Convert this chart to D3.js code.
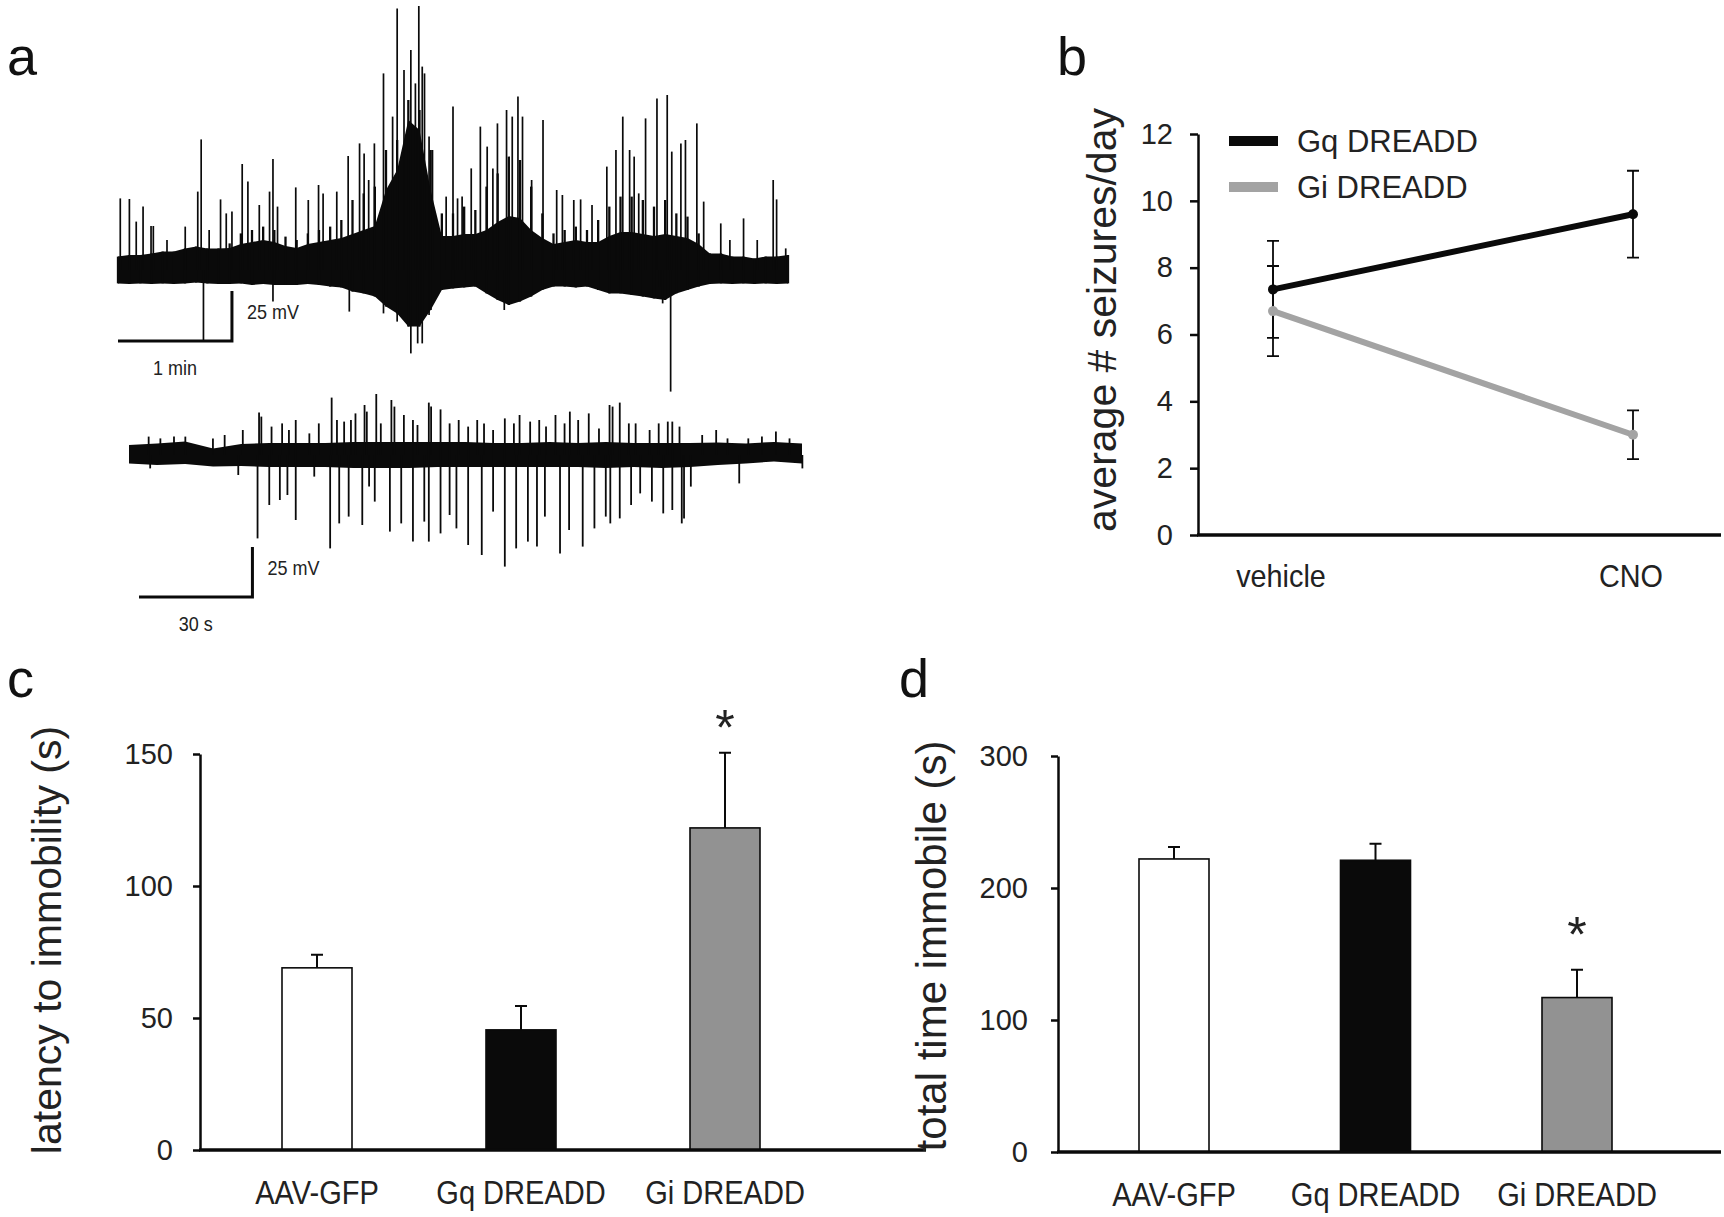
<!DOCTYPE html>
<html><head><meta charset="utf-8">
<script src="https://cdn.jsdelivr.net/npm/d3@7"></script>
<style>
html,body{margin:0;padding:0;background:#fff;}
svg{display:block;}
</style></head>
<body>
<svg id="fig" width="1724" height="1217"></svg>
<script>
// ---------------- DATA ----------------
// Panel a, trace 1 (minutes, mV). Solid core band + spiky envelope, sampled evenly over the trace
const trace1Duration = 5.88;
const trace1BandHi = [6.7,7.5,7.5,8.3,9.2,9.2,10.8,11.7,10.8,10.8,11,13,14,15,14,12,11,13,14,15,16,18,20,22,40,50,75,70,40,17,17,18,18,20,24,27,26,20,16,13,14,15,14,14,17,19,19,18,17,18,17,16,13,8.3,8.3,6.7,6.7,5.8,6.7,6.7,7.5];
const trace1Envelope = [6.7,7.5,7.5,8.3,9.2,9.2,10.8,11.7,10.8,10.8,13.3,18.3,20,21.7,20,16.7,15,18.3,20,21.7,25,35,38.3,41.7,60,65,85,80,60,28.3,28.3,31.7,30,41.7,48.3,56.7,55,41.7,28.3,18.3,20,21.7,20,25,31.7,36.7,36.7,35,31.7,35,28.3,26.7,18.3,8.3,8.3,6.7,6.7,5.8,6.7,6.7,7.5];
const trace1BandLo = [-6.7,-7,-6.7,-7,-6.7,-7,-6.7,-6.3,-6.7,-7,-7,-6.7,-7.5,-7,-7.5,-7.5,-7.5,-7,-7.5,-8.3,-8.7,-10.8,-11.7,-13.3,-18.3,-21.7,-28.3,-28.3,-20,-10,-9.2,-8.7,-8.3,-11.7,-15,-17.5,-15.8,-13.3,-10,-8.3,-8.3,-8.7,-8.3,-10,-11.7,-11.7,-12.5,-13.3,-14.2,-15,-11.7,-10,-8.3,-7,-6.7,-7,-6.7,-7,-6.7,-7,-6.7];
const trace1SpikesUp = [[0.02,35.8],[0.10,35.5],[0.16,24.2],[0.22,31.7],[0.29,22],[0.31,22],[0.43,15],[0.59,21.7],[0.70,39.2],[0.73,65.3],[0.80,20],[0.90,35.3],[0.95,28.3],[1.00,29.2],[1.09,53],[1.14,44.2],[1.24,32.5],[1.33,39.2],[1.36,55.5],[1.40,31.7],[1.56,41.3],[1.67,35],[1.76,42.5],[1.80,38.3],[1.92,39.2],[2.02,57],[2.12,63.3],[2.16,58.3],[2.20,45],[2.25,63.3],[2.33,98.3],[2.41,76.7],[2.45,130.8],[2.51,100],[2.57,110],[2.61,93.3],[2.64,132],[2.67,101.7],[2.69,98.3],[2.73,66.7],[2.76,60],[2.88,36.7],[2.94,81.7],[2.98,35.8],[3.02,36.7],[3.10,50.8],[3.18,71.7],[3.24,61.7],[3.29,50.8],[3.33,73.3],[3.41,80],[3.46,76.7],[3.51,86.7],[3.55,76.7],[3.63,45],[3.73,75],[3.85,40],[3.90,37.5],[4.00,35],[4.06,35.3],[4.16,32.5],[4.29,51.7],[4.37,60],[4.43,76.7],[4.49,60],[4.53,56.7],[4.57,38.3],[4.63,75.8],[4.73,85.8],[4.82,87.5],[4.86,59.2],[4.94,63.3],[4.98,65],[5.08,73.3],[5.14,34.2],[5.29,23.3],[5.37,15],[5.49,25.8],[5.61,15],[5.75,45],[5.78,35.3],[5.86,10.8]];
const trace1SpikesDown = [[0.75,-35],[1.36,-15.8],[2.03,-20.8],[2.33,-21.7],[2.45,-25.8],[2.57,-41.7],[2.63,-36.7],[2.67,-36.7],[2.73,-22.5],[3.39,-20],[4.75,-8.3],[4.78,-16.7],[4.85,-60.8]];

// Panel a, trace 2 (seconds, mV)
const trace2Duration = 178;
const trace2BandHi = [5,5.8,6.7,3.3,5.5,6,6,6,6.5,6.5,6.5,6.5,6.5,6,6,6.5,6,6.5,6,6,6,6.2,5.8,6.5,5.8];
const trace2BandLo = [-4.2,-5,-4.5,-5.8,-5.5,-6,-6,-6,-6.5,-6.5,-6.5,-6,-6,-6,-6,-6,-6,-6.5,-6,-6.5,-6,-5,-4.2,-3.3,-4.2];
const trace2SpikesUp = [[5.2,9.2],[8.3,8.3],[11.9,9.2],[14.9,9.2],[22.2,8.3],[25.3,10],[30.1,12.5],[34.4,21.2],[35.0,19.2],[37.7,14.2],[40.5,15.8],[42.3,12.5],[44.1,17.5],[47.7,10.8],[50.2,15.8],[53.6,28.7],[55.0,17.5],[56.9,16.7],[58.7,17.5],[59.9,20.8],[62.3,25],[62.9,21.7],[65.4,30.5],[66.6,15.8],[69.4,27.5],[70.2,24.2],[72.7,20],[75.1,17.5],[76.3,15],[79.3,26.2],[79.9,24.2],[82.4,22.8],[84.8,15.8],[87.2,17.5],[89.7,14.2],[92.1,17.5],[93.9,15.8],[96.3,12.5],[99.4,18.3],[101.8,15.8],[103.3,20],[106.1,16.7],[108.5,17.5],[110.3,14.2],[112.8,20],[115.2,15.8],[116.6,21.7],[118.8,17.5],[121.6,20.8],[124.3,13.3],[127.1,25],[127.9,24.2],[129.8,26.2],[132.2,15.8],[134.0,15.8],[137.7,12.5],[140.1,15.8],[142.5,16.7],[143.7,16.7],[145.6,14.2],[151.6,10],[155.3,12.5],[158.3,8.3],[163.8,8.3],[167.4,9.2],[171.1,11.7],[174.7,8.3]];
const trace2SpikesDown = [[5.6,-6.7],[28.9,-10],[34.0,-41.7],[37.1,-25],[39.9,-22.5],[41.9,-20],[44.1,-32.5],[49.0,-10.8],[53.2,-46.7],[55.6,-34.2],[58.1,-30.8],[61.7,-35],[63.5,-15.8],[65.0,-23.3],[69.0,-38.3],[72.0,-34.2],[75.1,-43.3],[78.1,-33.3],[79.3,-43.3],[82.4,-39.2],[84.8,-30],[86.6,-36.7],[89.7,-45],[93.3,-50],[96.3,-28.3],[99.4,-55.8],[102.4,-46.7],[105.5,-43.3],[107.9,-45.8],[110.0,-30.8],[114.0,-49.2],[116.4,-37.5],[120.0,-45.8],[123.1,-36.7],[126.1,-30.8],[127.3,-34.2],[129.8,-31.7],[132.8,-25],[135.2,-19.2],[138.3,-23.3],[141.3,-29.2],[143.7,-27.5],[146.2,-34.2],[146.8,-31.7],[148.6,-15.8],[161.4,-14.2],[178.1,-6.7]];

// Panel b
const conditions = ["vehicle", "CNO"];
const gqMean = [7.35, 9.6];
const gqErr = [1.45, 1.3];
const giMean = [6.7, 3.0];
const giErr = [1.35, 0.73];
const bTicks = [0, 2, 4, 6, 8, 10, 12];
const seriesNames = ["Gq DREADD", "Gi DREADD"];

// Panels c, d
const groups = ["AAV-GFP", "Gq DREADD", "Gi DREADD"];
const latency = [69, 45.5, 122];
const latencyErr = [5, 9, 28.5];
const totalImmobile = [222, 221, 117];
const totalImmobileErr = [9, 12.5, 21];
const cTicks = [0, 50, 100, 150];
const dTicks = [0, 100, 200, 300];
const cSignif = [false, false, true];
const dSignif = [false, false, true];

// ---------------- STYLE ----------------
const FONT = "'Liberation Sans', Arial, Helvetica, sans-serif";
const BLACK = "#0a0a0a", GRAY_LINE = "#a3a3a3", GRAY_BAR = "#929292", TXT = "#222";
const svg = d3.select("#fig");

function ctext(g, x, y, str, size, sx, anchor) {
  return g.append("text").attr("transform", `translate(${x},${y}) scale(${sx},1)`)
    .attr("text-anchor", anchor || "start").attr("font-family", FONT).attr("font-size", size)
    .attr("fill", TXT).text(str);
}

[["a",7,75],["b",1057,75],["c",7,697],["d",899,697]].forEach(([t,x,y]) =>
  svg.append("text").attr("x",x).attr("y",y).attr("font-family",FONT).attr("font-size",54).attr("fill","#111").text(t));

// ---------- Panel a ----------
function drawTrace(cfg) {
  const g = svg.append("g");
  const x = d3.scaleLinear().domain([0, cfg.duration]).range([cfg.x0, cfg.x1]);
  const y = d3.scaleLinear().domain([-25, 25]).range([cfg.base + 50, cfg.base - 50]);
  const n = cfg.hi.length;
  const band = d3.range(n).map(i => ({t: i * cfg.duration / (n - 1), hi: cfg.hi[i], lo: cfg.lo[i], env: cfg.env ? cfg.env[i] : cfg.hi[i]}));
  g.append("path").datum(band)
    .attr("d", d3.area().x(d => x(d.t)).y0(d => y(d.lo)).y1(d => y(d.hi)))
    .attr("fill", BLACK);
  if (cfg.env) {
    g.selectAll("line.env").data(band).join("line")
      .attr("x1", d => x(d.t)).attr("x2", d => x(d.t))
      .attr("y1", d => y(d.lo)).attr("y2", d => y(d.env))
      .attr("stroke", BLACK).attr("stroke-width", cfg.sw + 0.6);
  }
  const spikes = cfg.up.concat(cfg.down);
  g.selectAll("line.sp").data(spikes).join("line")
    .attr("x1", d => x(d[0])).attr("x2", d => x(d[0]))
    .attr("y1", y(0)).attr("y2", d => y(d[1]))
    .attr("stroke", BLACK).attr("stroke-width", cfg.sw);
  const sbx0 = cfg.sbx, sbx1 = cfg.sbx + (x(cfg.sbT) - x(0));
  const sbY = cfg.sby;
  g.append("path")
    .attr("d", `M${sbx0},${sbY}H${sbx1}V${y(25) - y(0) + sbY}`)
    .attr("fill", "none").attr("stroke", BLACK).attr("stroke-width", 3);
  ctext(g, sbx1 + 15, sbY - 22, "25 mV", 20, 0.9);
  ctext(g, (sbx0 + sbx1) / 2, sbY + 34, cfg.sbLabel, 20, 0.9, "middle");
}
drawTrace({duration: trace1Duration, hi: trace1BandHi, lo: trace1BandLo, env: trace1Envelope, up: trace1SpikesUp, down: trace1SpikesDown,
  x0: 118, x1: 788, base: 270, sw: 1.7, sbx: 118, sby: 341, sbT: 1, sbLabel: "1 min"});
drawTrace({duration: trace2Duration, hi: trace2BandHi, lo: trace2BandLo, up: trace2SpikesUp, down: trace2SpikesDown,
  x0: 129, x1: 802, base: 455, sw: 1.8, sbx: 139, sby: 597, sbT: 30, sbLabel: "30 s"});

// ---------- Panel b ----------
(function(){
  const g = svg.append("g");
  const axX = 1198, x1 = 1721;
  const y = d3.scaleLinear().domain([0, 12]).range([535, 134]);
  const x = d3.scalePoint().domain(conditions).range([1273, 1633]);
  const ax = g.append("g").attr("transform", `translate(${axX},0)`)
    .call(d3.axisLeft(y).tickValues(bTicks).tickSize(8).tickSizeOuter(0).tickPadding(17));
  ax.select(".domain").attr("stroke-width", 2.5).attr("stroke", BLACK);
  ax.selectAll(".tick line").attr("stroke-width", 2.5).attr("stroke", BLACK);
  ax.selectAll(".tick text").attr("font-family", FONT).attr("font-size", 29).attr("fill", TXT);
  g.append("line").attr("x1", axX - 1).attr("x2", x1).attr("y1", y(0)).attr("y2", y(0))
    .attr("stroke", BLACK).attr("stroke-width", 3.5);
  conditions.forEach(c => ctext(g, x(c) + (c === "vehicle" ? 8 : -2), 587, c, 32, 0.9, "middle"));
  g.append("text").attr("transform", `translate(1116,320) rotate(-90)`).attr("text-anchor", "middle")
    .attr("font-family", FONT).attr("font-size", 41).attr("fill", TXT).text("average # seizures/day");
  const series = [{m: gqMean, e: gqErr, c: BLACK}, {m: giMean, e: giErr, c: GRAY_LINE}];
  series.forEach(s => {
    conditions.forEach((c, i) => {
      const cx = x(c);
      g.append("path")
        .attr("d", `M${cx},${y(s.m[i] - s.e[i])}V${y(s.m[i] + s.e[i])}M${cx - 6},${y(s.m[i] + s.e[i])}H${cx + 6}M${cx - 6},${y(s.m[i] - s.e[i])}H${cx + 6}`)
        .attr("stroke", BLACK).attr("stroke-width", 1.8).attr("fill", "none");
    });
  });
  series.slice().reverse().forEach(s => {
    const pts = conditions.map((c, i) => [x(c), y(s.m[i])]);
    g.append("path").attr("d", d3.line()(pts)).attr("stroke", s.c).attr("stroke-width", 6).attr("fill", "none");
    g.selectAll(null).data(pts).join("circle").attr("cx", d => d[0]).attr("cy", d => d[1]).attr("r", 5).attr("fill", s.c);
  });
  [BLACK, GRAY_LINE].forEach((c, i) => {
    const ly = 141 + i * 46;
    g.append("line").attr("x1", 1229).attr("x2", 1278).attr("y1", ly).attr("y2", ly).attr("stroke", c).attr("stroke-width", 10);
    g.append("text").attr("x", 1297).attr("y", ly + 11).attr("font-family", FONT).attr("font-size", 31)
      .attr("fill", TXT).text(seriesNames[i]);
  });
})();

// ---------- Bar panels ----------
function barPanel(cfg) {
  const g = svg.append("g");
  const y = d3.scaleLinear().domain([0, cfg.max]).range([cfg.y0, cfg.yTop]);
  const x = d3.scalePoint().domain(groups).range(cfg.xr);
  const fills = ["#ffffff", BLACK, GRAY_BAR];
  const bw = 70;
  const ax = g.append("g").attr("transform", `translate(${cfg.axX},0)`)
    .call(d3.axisLeft(y).tickValues(cfg.ticks).tickSize(7).tickSizeOuter(0).tickPadding(cfg.pad));
  ax.select(".domain").attr("stroke-width", 2.5).attr("stroke", BLACK);
  ax.selectAll(".tick line").attr("stroke-width", 2.5).attr("stroke", BLACK);
  ax.selectAll(".tick text").attr("font-family", FONT).attr("font-size", 29).attr("fill", TXT);
  g.selectAll("path.err").data(groups).join("path")
    .attr("d", (d, i) => `M${x(d)},${y(cfg.vals[i])}V${y(cfg.vals[i] + cfg.errs[i])}M${x(d) - 6},${y(cfg.vals[i] + cfg.errs[i])}H${x(d) + 6}`)
    .attr("stroke", BLACK).attr("stroke-width", 2).attr("fill", "none");
  g.selectAll("rect").data(groups).join("rect")
    .attr("x", d => x(d) - bw / 2).attr("width", bw)
    .attr("y", (d, i) => y(cfg.vals[i])).attr("height", (d, i) => y(0) - y(cfg.vals[i]))
    .attr("fill", (d, i) => fills[i]).attr("stroke", BLACK).attr("stroke-width", 1.6);
  g.append("line").attr("x1", cfg.axX - 1).attr("x2", cfg.xEnd).attr("y1", y(0)).attr("y2", y(0))
    .attr("stroke", BLACK).attr("stroke-width", 3.5);
  groups.forEach(d => ctext(g, x(d), cfg.labY, d, 33, 0.88, "middle"));
  groups.forEach((d, i) => {
    if (!cfg.sig[i]) return;
    g.append("text").attr("x", x(d)).attr("y", y(cfg.vals[i] + cfg.errs[i]) - cfg.starGap)
      .attr("text-anchor", "middle").attr("font-family", FONT).attr("font-size", 50).attr("fill", TXT).text("*");
  });
  g.append("text").attr("transform", `translate(${cfg.titleX},${cfg.titleY}) rotate(-90)`).attr("text-anchor", "middle")
    .attr("font-family", FONT).attr("font-size", cfg.titleSize).attr("fill", TXT).text(cfg.title);
}
barPanel({vals: latency, errs: latencyErr, max: 150, ticks: cTicks, y0: 1150, yTop: 754, axX: 200, xEnd: 926,
  xr: [317, 725], pad: 20, labY: 1204, sig: cSignif, starGap: 8, titleX: 61, titleY: 940, titleSize: 41,
  title: "latency to immobility (s)"});
barPanel({vals: totalImmobile, errs: totalImmobileErr, max: 300, ticks: dTicks, y0: 1152, yTop: 756, axX: 1058, xEnd: 1721,
  xr: [1174, 1577], pad: 23, labY: 1206, sig: dSignif, starGap: 18, titleX: 946, titleY: 946, titleSize: 42,
  title: "total time immobile (s)"});
</script>
</body></html>
